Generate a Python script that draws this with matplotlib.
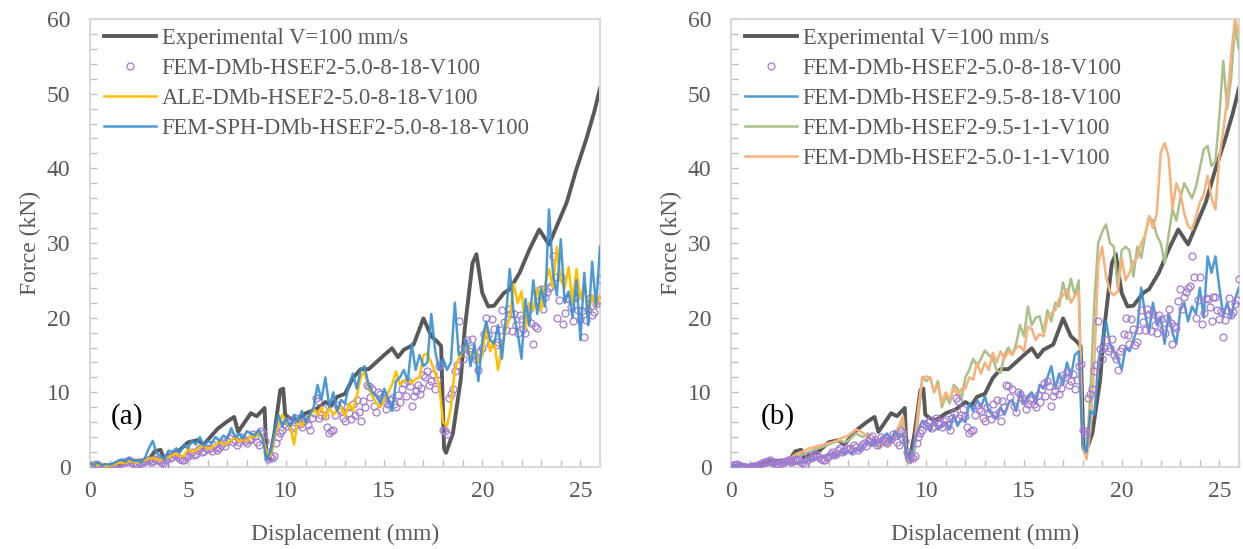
import numpy as np
import matplotlib
matplotlib.use("Agg")
import matplotlib.pyplot as plt
from matplotlib.ticker import MultipleLocator

plt.rcParams['font.family'] = ['Liberation Serif', 'DejaVu Serif']

# experimental curve (shared by both panels)
exp_x = [0, 0.3, 0.6, 1.0, 1.5, 2.0, 2.5, 3.0, 3.3, 3.6, 3.75, 4.5, 5.0, 5.5, 5.8,
         6.5, 7.0, 7.35, 7.55, 8.2, 8.5, 8.9, 9.0, 9.15, 9.4, 9.7, 9.85, 9.95, 10.2,
         10.5, 11.0, 11.5, 12.0, 12.3, 12.6, 13.0, 13.4, 13.8, 14.2, 14.5, 15.0, 15.4,
         15.7, 16.0, 16.5, 17.0, 17.4, 17.7, 17.9, 18.05, 18.15, 18.5, 18.9, 19.1,
         19.5, 19.7, 20.0, 20.3, 20.6, 21.1, 21.4, 21.9, 22.4, 22.9, 23.4, 23.8, 24.3,
         24.8, 25.3, 25.7, 26.0]
exp_y = [0.2, 0.1, 0.3, 0.0, 0.3, 0.9, 0.8, 1.0, 2.1, 2.3, 1.2, 2.1, 3.3, 3.6, 3.0,
         5.1, 6.1, 6.7, 4.7, 7.2, 6.8, 7.9, 1.2, 1.0, 4.5, 10.3, 10.5, 7.0, 6.5,
         6.3, 7.2, 7.7, 8.7, 8.2, 9.4, 9.8, 11.9, 13.1, 13.1, 13.8, 15.0, 15.9,
         14.7, 15.7, 16.4, 19.9, 17.5, 16.8, 16.2, 2.5, 1.9, 4.5, 11.7, 18.4,
         27.3, 28.5, 23.3, 21.5, 21.6, 23.3, 23.8, 26.0, 29.1, 31.8, 29.8, 32.3, 35.4,
         39.9, 43.9, 47.5, 50.7]

# simulations sampled every 0.2 mm
sim_x = np.round(np.arange(0, 26.01, 0.2), 1)
mid_x = sim_x[:-1] + 0.1

# FEM-DMb-HSEF2-5.0-8-18 scatter, on the 0.2 grid and on the half steps
fem_5_8_18 = [0.0, 0.3, 0.2, 0.0, -0.1, 0.0, 0.1, 0.2, 0.5, 0.6,
              0.9, 0.5, 0.4, 0.5, 0.8, 0.9, 0.8, 1.0, 0.6, 0.3,
              1.5, 1.3, 1.6, 1.1, 1.0, 1.5, 2.0, 1.8, 2.5, 2.2,
              2.4, 2.2, 2.7, 2.5, 3.2, 3.5, 4.2, 3.6, 3.3, 3.8,
              3.2, 3.8, 4.1, 3.0, 4.5, 2.0, 1.3, 1.5, 4.0, 5.0,
              5.5, 6.3, 5.5, 6.0, 5.3, 6.4, 5.0, 7.2, 8.8, 7.0,
              6.8, 4.6, 5.0, 8.3, 7.5, 6.2, 7.2, 8.5, 9.0, 6.2,
              8.0, 10.8, 10.4, 7.4, 9.8, 8.8, 8.5, 9.2, 8.0, 8.7,
              11.2, 11.5, 8.2, 10.2, 9.8, 12.3, 12.8, 11.5, 10.5, 13.5,
              5.0, 4.4, 9.8, 12.8, 19.5, 14.5, 17.0, 16.0, 15.0, 13.0,
              16.0, 19.9, 16.5, 18.5, 16.8, 21.0, 18.3, 20.5, 20.5, 17.9,
              19.8, 18.0, 21.2, 16.5, 18.6, 23.8, 22.8, 24.0, 28.2, 19.9,
              25.5, 20.6, 22.5, 19.5, 22.7, 19.8, 17.4, 21.0, 20.3, 21.8,
              25.2]
fem_5_8_18_mid = [0.2, 0.4, 0.1, 0.0, 0.0, 0.1, 0.1, 0.4, 0.7, 0.8,
                  0.7, 0.3, 0.6, 0.7, 1.0, 0.7, 1.1, 0.9, 0.5, 0.9,
                  1.2, 1.8, 1.4, 0.9, 1.4, 1.8, 1.6, 2.3, 2.0, 2.6,
                  2.6, 2.9, 2.3, 3.0, 2.8, 3.9, 3.4, 3.0, 4.0, 3.5,
                  3.6, 4.4, 3.4, 4.8, 3.5, 1.1, 1.2, 3.2, 4.6, 5.8,
                  6.0, 5.2, 6.5, 5.7, 6.2, 5.6, 6.6, 9.3, 6.6, 7.8,
                  5.4, 4.8, 7.0, 7.8, 6.6, 8.0, 6.4, 7.0, 7.3, 8.8,
                  11.0, 9.4, 8.2, 10.0, 9.2, 7.8, 9.0, 8.5, 9.6, 10.5,
                  9.5, 10.8, 9.5, 11.0, 10.6, 12.0, 11.0, 12.4, 11.6, 13.8,
                  4.8, 9.3, 10.4, 13.7, 15.8, 16.0, 15.5, 17.2, 14.4, 15.6,
                  17.8, 17.7, 19.8, 16.3, 18.4, 19.4, 21.1, 18.2, 19.0, 20.3,
                  18.5, 20.0, 19.3, 18.9, 22.2, 21.1, 23.5, 24.3, 25.5, 22.3,
                  19.1, 22.6, 21.4, 22.8, 21.0, 20.9, 19.7, 22.6, 20.8, 22.4]

ale_5_8_18 = [0.3, 0.5, 0.2, 0.4, 0.1, 0.2, 0.3, 0.5, 0.6, 0.5,
              0.8, 0.7, 0.6, 0.7, 0.9, 1.1, 1.2, 1.0, 0.9, 1.2,
              1.3, 1.6, 1.8, 1.4, 1.5, 2.5, 2.0, 2.2, 2.6, 2.9,
              2.4, 2.6, 3.0, 3.5, 3.0, 3.2, 3.6, 4.0, 3.4, 3.8,
              3.4, 4.2, 4.0, 4.6, 4.0, 2.0, 1.5, 4.0, 5.5, 7.0,
              6.0, 5.5, 3.0, 6.5, 5.5, 6.3, 6.8, 7.8, 7.0, 8.0,
              6.5, 8.0, 7.0, 7.5, 8.0, 6.8, 8.5, 7.5, 9.5, 12.0,
              12.8, 10.8, 9.5, 8.5, 8.0, 9.0, 10.0, 11.0, 12.8, 11.0,
              11.5, 11.8, 11.2, 11.8, 12.0, 15.0, 15.2, 14.0, 12.5, 11.0,
              6.0, 5.5, 8.0, 13.0, 14.5, 15.5, 16.5, 14.5, 16.0, 14.0,
              15.0, 19.0, 15.5, 17.0, 13.0, 16.0, 18.5, 20.0, 24.5, 22.0,
              23.5, 18.5, 22.0, 21.0, 24.0, 21.0, 24.5, 26.5, 24.0, 29.5,
              25.0, 24.0, 26.8, 22.0, 26.5, 22.5, 24.5, 20.5, 23.0, 21.5,
              23.0]

sph_5_8_18 = [0.5, 0.3, 0.6, 0.2, 0.4, 0.3, 0.5, 0.8, 1.0, 0.7,
              1.2, 0.8, 0.9, 0.6, 1.2, 2.5, 3.5, 1.8, 1.5, 1.0,
              2.2, 2.0, 2.5, 2.0, 3.0, 2.5, 3.5, 3.0, 4.0, 2.8,
              3.5, 3.2, 4.0, 3.5, 4.2, 3.8, 5.2, 4.0, 4.5, 3.8,
              4.8, 4.5, 4.2, 5.0, 3.8, 1.0, 2.0, 4.5, 7.0, 5.5,
              6.5, 5.5, 7.0, 6.0, 7.5, 6.0, 7.0, 8.0, 11.0, 9.0,
              12.0, 8.0, 10.0, 7.5, 9.0, 8.5, 11.0, 12.5, 10.5, 13.0,
              13.5, 11.0, 10.0, 9.5, 8.5, 10.5, 9.0, 7.5, 11.5, 12.0,
              13.0, 11.5, 16.5, 13.0, 15.0, 13.5, 14.0, 20.5, 15.5, 13.0,
              14.5, 13.0, 14.0, 22.0, 15.0, 15.5, 17.0, 13.5, 16.5, 11.5,
              17.0, 19.5, 17.0, 16.5, 19.0, 14.5, 20.0, 26.5, 20.5, 18.0,
              14.5, 22.5, 19.0, 25.0, 20.5, 24.0, 21.5, 34.5, 26.0, 23.0,
              30.5, 22.0, 23.5, 20.0, 25.0, 17.0, 26.0, 19.0, 27.5, 21.5,
              29.5]

fem_95_8_18 = [0.1, 0.2, 0.0, 0.1, 0.0, 0.1, 0.2, 0.3, 0.2, 0.3,
               0.4, 0.3, 0.5, 0.5, 0.6, 0.6, 0.4, 0.5, 0.7, 0.6,
               1.0, 1.1, 1.2, 1.4, 1.5, 1.6, 1.8, 1.5, 2.0, 1.8,
               2.2, 1.8, 2.5, 2.2, 3.0, 3.5, 2.8, 3.5, 3.2, 4.0,
               4.5, 3.5, 4.8, 3.8, 4.5, 1.5, 1.0, 3.5, 5.0, 6.2,
               5.5, 4.8, 6.2, 5.0, 5.5, 6.0, 5.0, 7.0, 5.5, 6.5,
               6.0, 8.5, 7.5, 9.0, 8.0, 9.5, 7.5, 7.0, 6.5, 8.0,
               7.0, 8.5, 9.0, 7.5, 10.0, 8.5, 9.5, 10.0, 8.5, 11.0,
               10.5, 12.0, 13.5, 10.5, 12.5, 11.0, 14.0, 12.0, 15.0, 15.5,
               3.0, 2.0, 7.5, 7.0, 14.0, 17.0, 19.5, 16.5, 15.5, 14.5,
               13.0, 16.0, 15.5, 17.0, 18.5, 24.0, 20.5, 18.0, 22.0, 19.0,
               20.0, 16.5, 20.5, 18.0, 16.5, 21.0, 22.0, 19.5, 21.5, 20.5,
               24.0, 20.0, 28.2, 26.0, 28.2, 24.0, 20.2, 22.0, 20.0, 22.5,
               24.0]

fem_95_1_1 = [0.0, 0.0, 0.0, 0.0, 0.0, 0.0, 0.0, 0.1, 0.1, 0.2,
              0.3, 0.4, 0.5, 0.7, 0.8, 1.0, 1.2, 1.5, 1.6, 1.8,
              2.0, 2.2, 2.5, 2.6, 2.8, 3.0, 3.2, 3.5, 3.5, 3.3,
              3.5, 4.0, 4.5, 4.2, 4.0, 4.5, 3.5, 3.0, 2.5, 3.0,
              3.5, 3.8, 4.0, 5.0, 6.0, 1.0, 0.5, 2.0, 7.0, 12.0,
              11.5, 12.0, 10.0, 11.5, 8.0, 9.5, 8.5, 11.0, 10.5, 9.0,
              12.0, 13.0, 14.5, 13.5, 14.5, 15.6, 15.0, 14.5, 13.0, 12.6,
              15.0, 16.0, 15.0, 16.5, 19.0, 17.5, 21.5, 19.0, 20.0, 20.2,
              18.0, 21.0, 19.5, 22.0, 21.5, 24.7, 22.5, 25.2, 23.0, 25.0,
              3.0, 1.5, 10.0, 22.0, 30.0, 31.5, 32.5, 30.0, 29.5, 24.0,
              29.0, 29.5, 29.0, 25.5, 29.5, 28.0, 31.0, 33.5, 33.0, 31.0,
              30.0, 27.3, 31.0, 34.5, 33.0, 36.0, 38.0, 37.0, 36.0, 37.5,
              40.0, 42.5, 43.0, 40.3, 41.0, 47.0, 54.4, 48.0, 52.0, 59.0,
              56.0]

fem_50_1_1 = [0.0, 0.0, 0.0, 0.0, 0.0, 0.0, 0.1, 0.1, 0.2, 0.2,
              0.3, 0.4, 0.6, 0.8, 1.0, 1.2, 1.5, 1.8, 2.0, 2.2,
              2.5, 2.6, 2.8, 2.9, 3.0, 3.2, 3.3, 3.5, 3.8, 4.0,
              4.2, 4.6, 5.0, 4.8, 4.5, 4.0, 3.8, 3.5, 3.2, 3.0,
              2.8, 3.5, 4.5, 5.5, 6.8, 1.5, 0.8, 3.0, 8.0, 12.0,
              12.1, 12.0, 10.0, 11.0, 8.6, 10.0, 9.0, 10.7, 9.5, 10.5,
              10.5, 12.0, 11.7, 14.0, 12.5, 14.0, 13.0, 15.3, 14.0, 15.5,
              14.5, 15.5, 15.0, 16.0, 16.2, 15.5, 18.8, 18.5, 17.0, 17.8,
              17.5, 20.0, 20.6, 21.0, 22.5, 23.0, 23.8, 22.0, 22.9, 23.5,
              3.0, 1.0, 5.0, 14.0, 27.3, 29.5, 25.5, 23.5, 23.0, 23.5,
              28.0, 25.0, 26.0, 27.5, 28.0, 30.0, 31.0, 33.6, 32.0, 34.0,
              42.1, 43.4, 41.6, 34.5, 38.0, 36.7, 34.0, 32.3, 31.8, 33.5,
              35.4, 36.5, 39.0, 36.0, 34.5, 41.6, 45.0, 49.2, 55.0, 60.0,
              58.0]

grey = '#595959'
purple = '#a47bd0'
blue = '#3b8fd1'

dot_x = np.concatenate([sim_x, mid_x])
dot_y = np.concatenate([fem_5_8_18, fem_5_8_18_mid])


def style_axes(ax, tag, tag_x):
    ax.set_xlim(0, 26)
    ax.set_ylim(0, 60)
    ax.xaxis.set_major_locator(MultipleLocator(5))
    ax.xaxis.set_minor_locator(MultipleLocator(1))
    ax.yaxis.set_major_locator(MultipleLocator(10))
    ax.yaxis.set_minor_locator(MultipleLocator(2))
    for s in ax.spines.values():
        s.set_color('#d9d9d9')
        s.set_linewidth(1.5)
    ax.tick_params(which='both', direction='in', length=5, width=1,
                   color='#bfbfbf', labelcolor=grey, labelsize=17)
    ax.tick_params(axis='x', pad=10)
    ax.tick_params(axis='y', pad=14)
    ax.set_xlabel('Displacement (mm)', fontsize=17, color=grey, labelpad=16)
    ax.set_ylabel('Force (kN)', fontsize=17, color=grey, labelpad=4)
    ax.text(tag_x, 6.8, tag, fontsize=21, ha='center', va='center')
    ax.legend(loc='upper left', bbox_to_anchor=(0.01, 1.0), frameon=False,
              fontsize=16.3, labelcolor=grey, handlelength=2.3,
              handletextpad=0.25, labelspacing=0.4, borderaxespad=0.2,
              borderpad=0.2)


fig = plt.figure(figsize=(12.43, 5.49), dpi=100)
ax1 = fig.add_axes([0.0724, 0.1494, 0.4103, 0.816])
ax2 = fig.add_axes([0.588, 0.1494, 0.4087, 0.816])

# panel (a)
ax1.plot(exp_x, exp_y, color=grey, lw=2.8, label='Experimental V=100 mm/s', zorder=2)
ax1.plot(dot_x, dot_y, 'o', mfc='none', mec=purple, ms=5, mew=0.9,
         label='FEM-DMb-HSEF2-5.0-8-18-V100', zorder=3)
ax1.plot(sim_x, ale_5_8_18, color='#ffc000', lw=1.8,
         label='ALE-DMb-HSEF2-5.0-8-18-V100', zorder=4)
ax1.plot(sim_x, sph_5_8_18, color=blue, lw=1.8, alpha=0.9,
         label='FEM-SPH-DMb-HSEF2-5.0-8-18-V100', zorder=5)
style_axes(ax1, '(a)', 1.9)

# panel (b)
ax2.plot(exp_x, exp_y, color=grey, lw=2.8, label='Experimental V=100 mm/s', zorder=2)
ax2.plot(dot_x, dot_y, 'o', mfc='none', mec=purple, ms=5, mew=0.9,
         label='FEM-DMb-HSEF2-5.0-8-18-V100', zorder=6)
ax2.plot(sim_x, fem_95_8_18, color=blue, lw=1.8, alpha=0.9,
         label='FEM-DMb-HSEF2-9.5-8-18-V100', zorder=5)
ax2.plot(sim_x, fem_95_1_1, color='#a9c089', lw=1.8,
         label='FEM-DMb-HSEF2-9.5-1-1-V100', zorder=3)
ax2.plot(sim_x, fem_50_1_1, color='#f7b17b', lw=1.8,
         label='FEM-DMb-HSEF2-5.0-1-1-V100', zorder=4)
style_axes(ax2, '(b)', 2.4)

fig.savefig('out.png', dpi=100)
